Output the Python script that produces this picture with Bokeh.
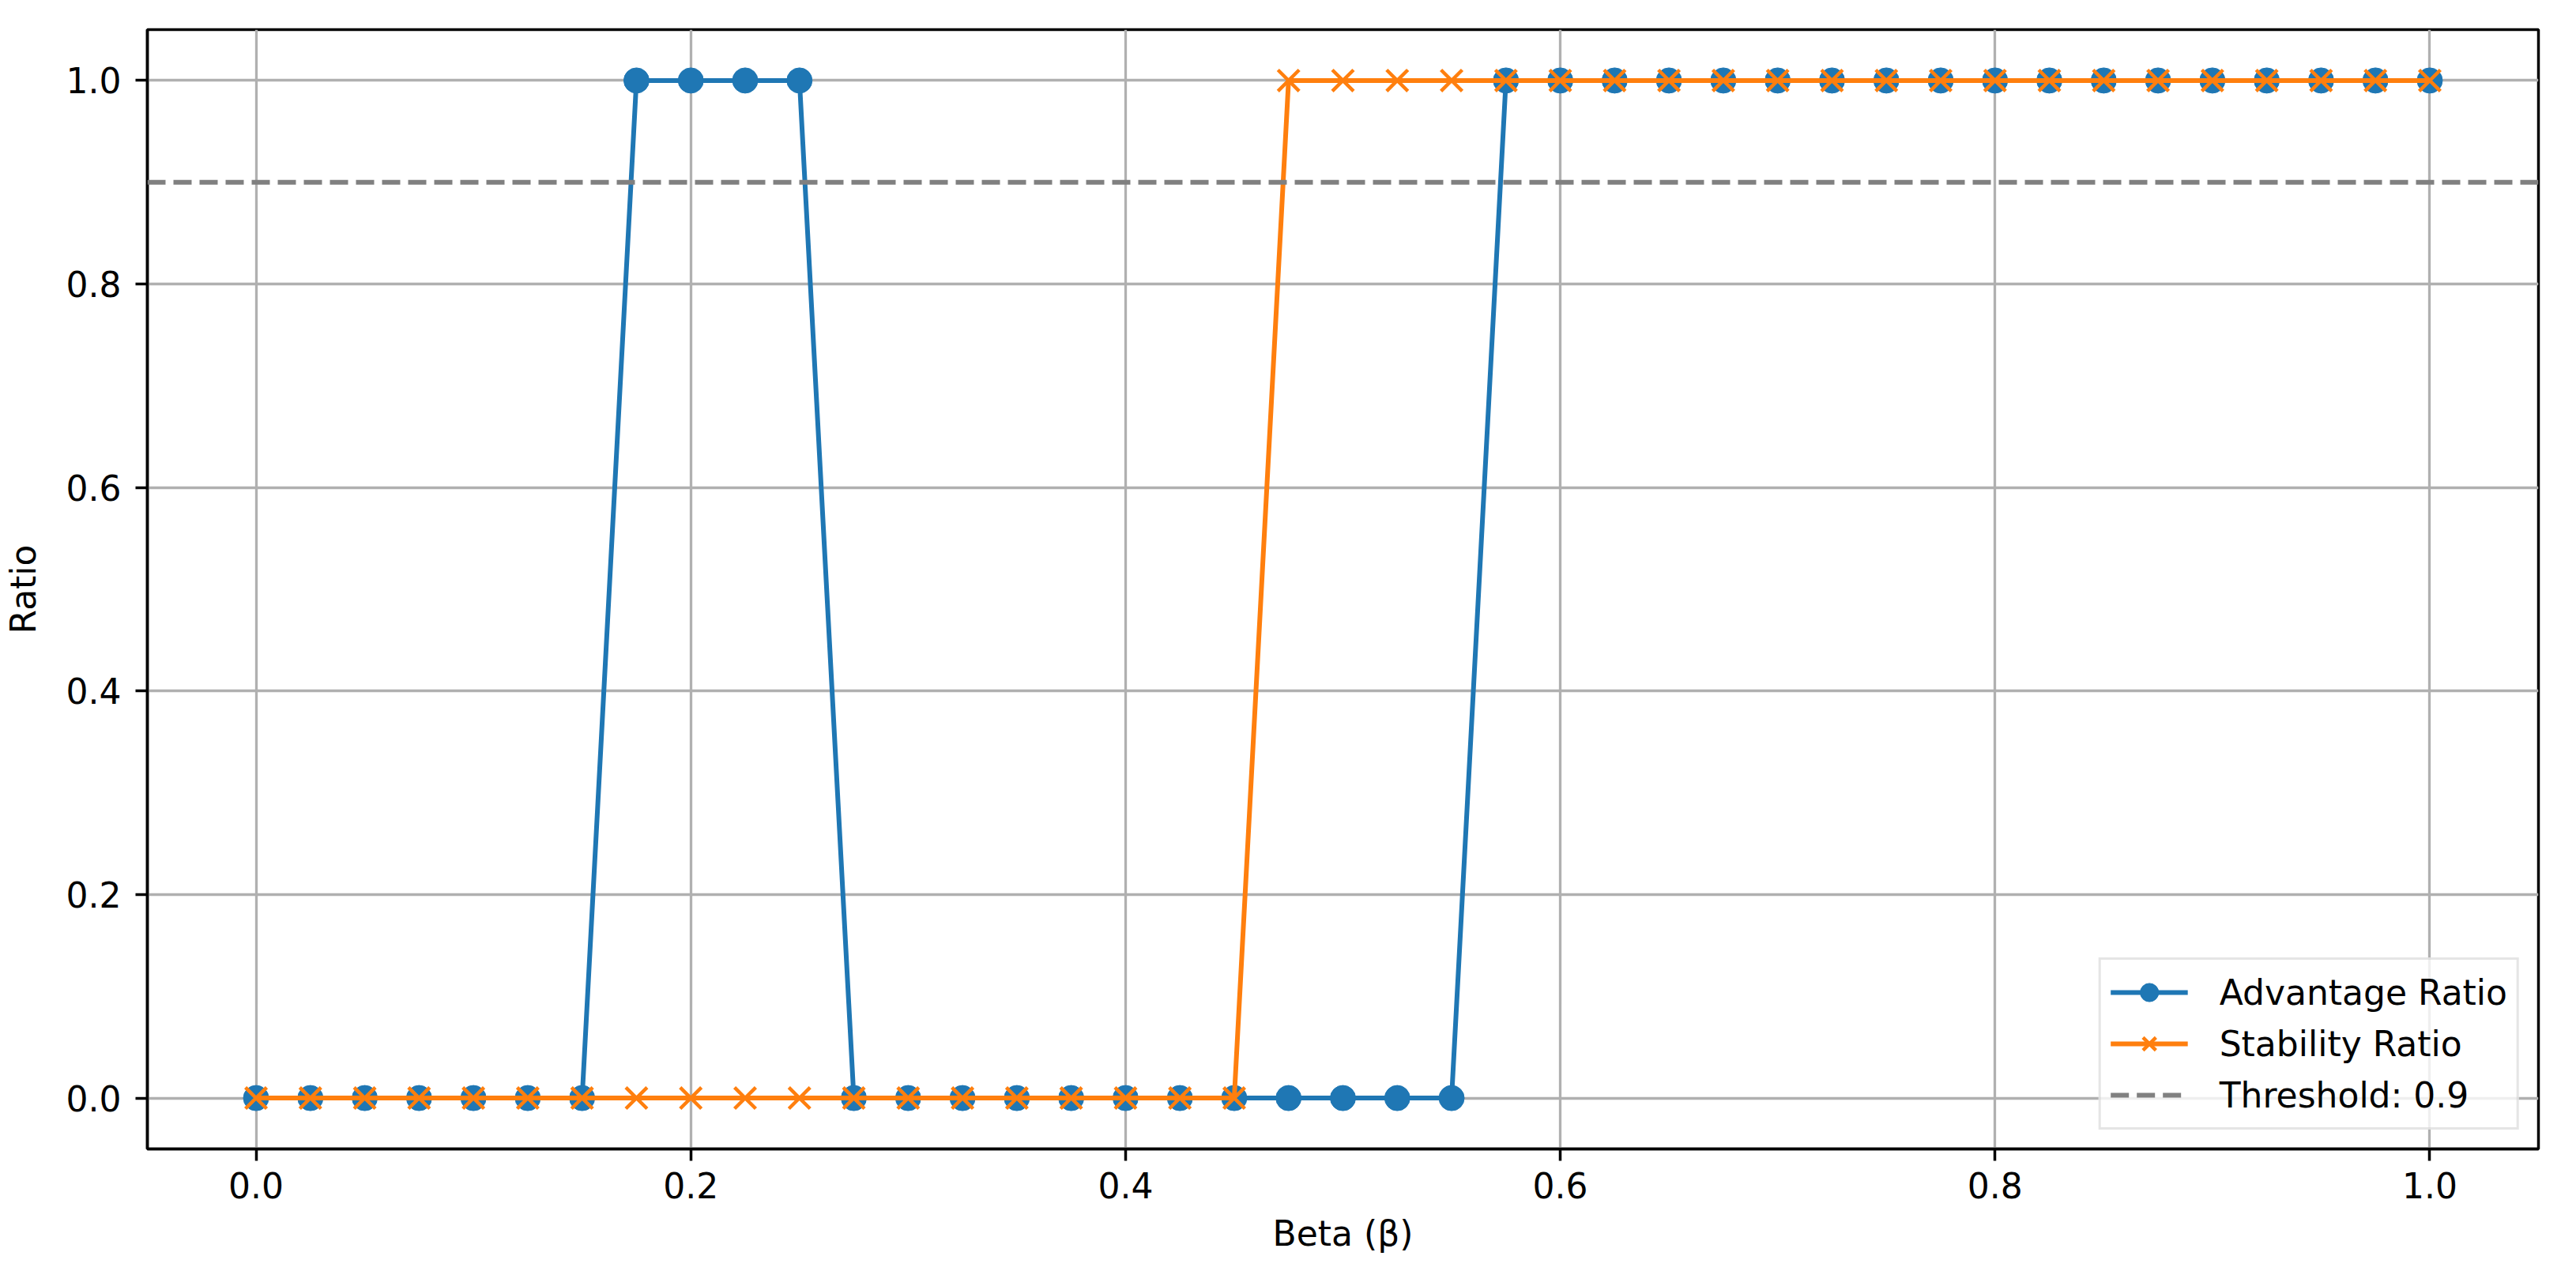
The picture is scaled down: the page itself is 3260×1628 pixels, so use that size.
from bokeh.plotting import figure
from bokeh.models import Range1d, FixedTicker, PrintfTickFormatter, Span, ColumnDataSource
from bokeh.embed import file_html
from bokeh.resources import INLINE

# ---- data ----
beta = [0.0, 0.025, 0.05, 0.075, 0.1, 0.125, 0.15, 0.175, 0.2, 0.225,
        0.25, 0.275, 0.3, 0.325, 0.35, 0.375, 0.4, 0.425, 0.45, 0.475,
        0.5, 0.525, 0.55, 0.575, 0.6, 0.625, 0.65, 0.675, 0.7, 0.725,
        0.75, 0.775, 0.8, 0.825, 0.85, 0.875, 0.9, 0.925, 0.95, 0.975, 1.0]
advantage_ratio = [0, 0, 0, 0, 0, 0, 0, 1, 1, 1,
                   1, 0, 0, 0, 0, 0, 0, 0, 0, 0,
                   0, 0, 0, 1, 1, 1, 1, 1, 1, 1,
                   1, 1, 1, 1, 1, 1, 1, 1, 1, 1, 1]
stability_ratio = [0, 0, 0, 0, 0, 0, 0, 0, 0, 0,
                   0, 0, 0, 0, 0, 0, 0, 0, 0, 1,
                   1, 1, 1, 1, 1, 1, 1, 1, 1, 1,
                   1, 1, 1, 1, 1, 1, 1, 1, 1, 1, 1]
threshold = 0.9
x_ticks = [0.0, 0.2, 0.4, 0.6, 0.8, 1.0]
y_ticks = [0.0, 0.2, 0.4, 0.6, 0.8, 1.0]

BLUE = "#1f77b4"
ORANGE = "#ff7f0e"
GRAY = "#808080"
FONT = "DejaVu Sans"
FS = "44px"

src = ColumnDataSource(dict(beta=beta, adv=advantage_ratio, stab=stability_ratio))

p = figure(width=3244, height=1612, output_backend="svg", toolbar_location=None,
           x_range=Range1d(-0.05, 1.05), y_range=Range1d(-0.05, 1.05),
           min_border_left=175, min_border_right=32, min_border_top=37, min_border_bottom=158)

p.background_fill_color = "white"
p.border_fill_color = "white"
p.outline_line_color = "black"
p.outline_line_width = 3.5

# grid
for g in (p.xgrid, p.ygrid):
    g.grid_line_color = "#b0b0b0"
    g.grid_line_width = 3.3
p.xgrid.ticker = FixedTicker(ticks=x_ticks)
p.ygrid.ticker = FixedTicker(ticks=y_ticks)

# axes
p.xaxis.ticker = FixedTicker(ticks=x_ticks)
p.yaxis.ticker = FixedTicker(ticks=y_ticks)
for ax in (p.xaxis[0], p.yaxis[0]):
    ax.formatter = PrintfTickFormatter(format="%.1f")
    ax.axis_line_color = "black"
    ax.axis_line_width = 3.5
    ax.major_tick_line_color = "black"
    ax.major_tick_line_width = 3.5
    ax.major_tick_out = 15
    ax.major_tick_in = 0
    ax.minor_tick_line_color = None
    ax.major_label_text_font = FONT
    ax.major_label_text_font_size = FS
    ax.major_label_text_color = "black"
    ax.axis_label_text_font = FONT
    ax.axis_label_text_font_size = FS
    ax.axis_label_text_font_style = "normal"
    ax.axis_label_text_color = "black"
p.xaxis.major_label_standoff = 14
p.xaxis.axis_label_standoff = 16
p.yaxis.major_label_standoff = 18
p.yaxis.axis_label_standoff = 26
p.xaxis.axis_label = "Beta (β)"
p.yaxis.axis_label = "Ratio"

# series
p.line("beta", "adv", source=src, line_color=BLUE, line_width=6, legend_label="Advantage Ratio")
p.scatter("beta", "adv", source=src, marker="circle", size=32, fill_color=BLUE, line_color=BLUE,
          line_width=1, legend_label="Advantage Ratio")
p.line("beta", "stab", source=src, line_color=ORANGE, line_width=6, legend_label="Stability Ratio")
p.scatter("beta", "stab", source=src, marker="x", size=38, line_color=ORANGE, line_width=4.5,
          legend_label="Stability Ratio")

# threshold
span = Span(location=threshold, dimension="width", line_color=GRAY, line_width=6,
            line_dash="23 10")
p.add_layout(span)
p.line(x=[beta[0], beta[0]], y=[threshold, threshold], line_color=GRAY, line_width=6,
       line_dash="23 10", legend_label="Threshold: 0.9")

# legend
lg = p.legend[0]
lg.location = "bottom_right"
lg.margin = 24
lg.padding = 12
lg.spacing = 7
lg.glyph_width = 98
lg.glyph_height = 58
lg.label_height = 44
lg.label_standoff = 40
lg.label_text_font = FONT
lg.label_text_font_size = FS
lg.label_text_color = "black"
lg.border_line_color = "#cccccc"
lg.border_line_width = 3
lg.background_fill_color = "white"
lg.background_fill_alpha = 0.8

open("out.html", "w").write(file_html(p, INLINE))
